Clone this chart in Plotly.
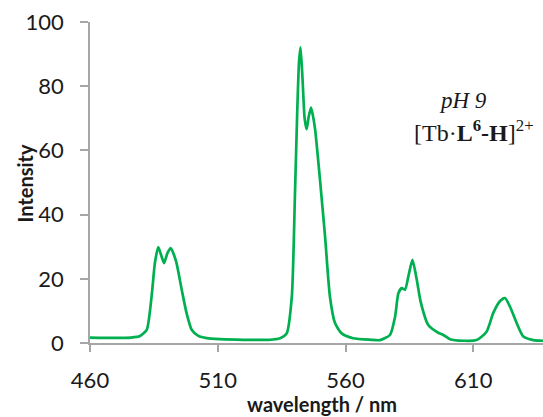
import plotly.graph_objects as go

# emission spectrum
wavelength = [
    460, 470, 476, 479.6, 482.2, 484.1, 485.4, 486.7, 487.8, 489.0, 490.3, 491.6,
    493.7, 495.9, 497.8, 499.8, 502.4, 505.7, 510.9, 520, 530, 534.4, 537, 539,
    540.2, 541.1, 541.8, 542.4, 543.2, 544.0, 544.8, 545.6, 546.5, 547.2, 548.1,
    550.0, 552.0, 553.9, 555.9, 558.5, 563, 570, 573.5, 577.4, 579.4, 580.7,
    582.0, 583.3, 584.8, 586.2, 587.9, 589.4, 592.4, 596.3, 598.3, 600.9, 606.1,
    611.3, 615.2, 617.8, 620.5, 622.4, 624.4, 627, 629.6, 633.5, 637.3,
]
intensity = [
    1.7, 1.6, 1.7, 2.2, 4.1, 14.5, 24.9, 29.9, 27.5, 24.9, 28.0, 29.6,
    25.4, 16.6, 9.3, 4.1, 2.2, 1.5, 1.2, 1.0, 1.0, 1.5, 3.0, 14.5,
    45.7, 71.8, 87.4, 92.1, 82.0, 70.0, 66.6, 70.5, 73.3, 71.0, 66.6,
    51.0, 33.2, 14.5, 6.2, 3.0, 1.5, 1.0, 0.9, 2.5, 8.2, 15.5,
    17.1, 16.6, 21.5, 25.9, 19.7, 12.9, 5.6, 3.2, 2.5, 1.2, 0.7,
    0.9, 3.5, 9.3, 13.1, 14.0, 11.3, 6.2, 2.0, 0.9, 0.7,
]

x_ticks = [460, 510, 560, 610]
y_ticks = [0, 20, 40, 60, 80, 100]

TEXT = "#1a1a1a"
SANS = "Lato, sans-serif"
SERIF = "Liberation Serif, serif"

fig = go.Figure()

fig.add_trace(
    go.Scatter(
        x=wavelength,
        y=intensity,
        mode="lines",
        line={"color": "#00b050", "width": 2.7, "shape": "spline", "smoothing": 0.6},
        showlegend=False,
    )
)

axis_common = {
    "showline": True,
    "linecolor": "#a6a6a6",
    "linewidth": 1.5,
    "ticks": "outside",
    "tickcolor": "#a6a6a6",
    "tickwidth": 1.5,
    "showgrid": False,
    "zeroline": False,
    "automargin": False,
    "ticklabeloverflow": "allow",
    "tickfont": {"family": SANS, "size": 22, "color": TEXT},
}

fig.update_layout(
    width=543,
    height=417,
    margin={"l": 90, "r": 0, "t": 22, "b": 74},
    plot_bgcolor="white",
    paper_bgcolor="white",
    xaxis={
        **axis_common,
        "range": [460, 637.3],
        "tickvals": x_ticks,
        "ticklen": 7,
        "ticklabelstandoff": 10,
    },
    yaxis={
        **axis_common,
        "range": [0, 100],
        "tickvals": y_ticks,
        "ticklen": 8,
        "ticklabelstandoff": 12,
    },
)

# axis titles as annotations (paper coords)
fig.add_annotation(
    x=0.512, y=-0.19, xref="paper", yref="paper", showarrow=False,
    xanchor="center", yanchor="middle",
    text="<b>wavelength / nm</b>",
    font={"family": SANS, "size": 20, "color": TEXT},
)
fig.add_annotation(
    x=-0.1435, y=0.5, xref="paper", yref="paper", showarrow=False,
    xanchor="center", yanchor="middle",
    text="<b>Intensity</b>", textangle=-90,
    font={"family": SANS, "size": 20, "color": TEXT},
)

# sample label
fig.add_annotation(
    x=0.823, y=0.754, xref="paper", yref="paper", showarrow=False,
    xanchor="center", yanchor="middle",
    text="<i>pH 9</i>",
    font={"family": SERIF, "size": 23, "color": TEXT},
)
fig.add_annotation(
    x=0.848, y=0.660, xref="paper", yref="paper", showarrow=False,
    xanchor="center", yanchor="middle",
    text="[Tb·<b>L</b><sup><b>6</b></sup><b>-H</b>]<sup>2+</sup>",
    font={"family": SERIF, "size": 24, "color": TEXT},
)

# drop the default body margin so the figure fills the window
fig.write_html(
    "out.html",
    config={"displayModeBar": False},
    post_script="document.body.style.margin='0px'; document.body.style.overflow='hidden';",
)
